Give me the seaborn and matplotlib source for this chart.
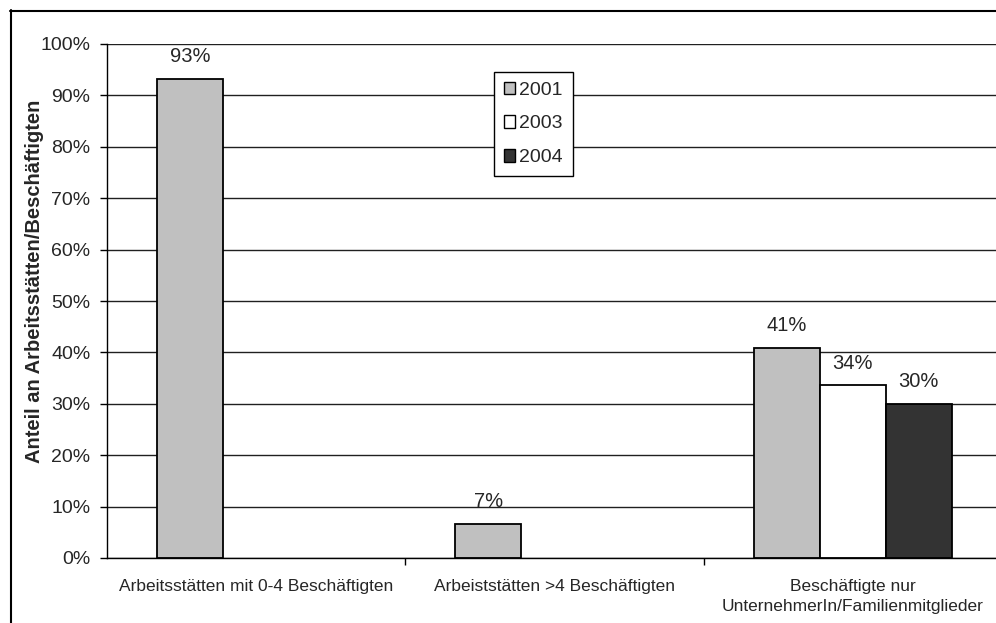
import numpy as np
import pandas as pd
import matplotlib
matplotlib.use("Agg")
import matplotlib.pyplot as plt
from matplotlib.lines import Line2D
from matplotlib.patches import Patch
from matplotlib.ticker import FixedLocator, FuncFormatter
import seaborn as sns

categories = ["Arbeitsstätten mit 0-4 Beschäftigten",
              "Arbeiststätten >4 Beschäftigten",
              "Beschäftigte nur\nUnternehmerIn/Familienmitglieder"]
years = ["2001", "2003", "2004"]
values_2001 = [93.2, 6.7, 40.9]
values_2003 = [np.nan, np.nan, 33.6]
values_2004 = [np.nan, np.nan, 30.0]
colors = ["#c0c0c0", "#ffffff", "#333333"]
ylabel = "Anteil an Arbeitsstätten/Beschäftigten"

rows = []
for yr, vals in zip(years, [values_2001, values_2003, values_2004]):
    for c, v in zip(categories, vals):
        rows.append({"cat": c, "year": yr, "val": v})
df = pd.DataFrame(rows)

sns.set_style("white")
plt.rcParams["font.family"] = ["Liberation Sans", "DejaVu Sans"]

fig = plt.figure(figsize=(9.96, 6.23), dpi=100)
ax = fig.add_axes([107/996, 65/623, (1002-107)/996, (558-44)/623])

sns.barplot(data=df, x="cat", y="val", hue="year", order=categories,
            hue_order=years, palette=colors, width=0.664, ax=ax,
            edgecolor="black", linewidth=1.3, saturation=1, legend=False)

ax.set_ylim(0, 100)
ax.set_xlim(-0.5, 2.5)
ax.yaxis.set_major_locator(FixedLocator(np.arange(0, 101, 10)))
ax.yaxis.set_major_formatter(FuncFormatter(lambda v, p: f"{v:.0f}%"))
ax.grid(axis="y", color="#202020", linewidth=1.0)
ax.set_axisbelow(True)
for s in ["top", "right"]:
    ax.spines[s].set_visible(False)
for s in ["left", "bottom"]:
    ax.spines[s].set_color("black")
    ax.spines[s].set_linewidth(1.0)

ax.tick_params(axis="y", which="major", direction="out", length=5, width=1,
               color="black", labelsize=14, pad=7, left=True)
ax.tick_params(axis="x", which="major", length=0, labelsize=12.5, pad=15)
ax.set_xticks(range(len(categories)))
ax.set_xticklabels(categories, linespacing=1.45)
ax.xaxis.set_minor_locator(FixedLocator([0.5, 1.5]))
ax.tick_params(axis="x", which="minor", direction="out", length=5, width=1,
               color="black", bottom=True)

ax.set_xlabel("")
ax.set_ylabel(ylabel, fontsize=14.5, fontweight="bold")
ax.yaxis.set_label_coords((44-107)/895, (558-281)/514)

for cont in ax.containers:
    labels = [("" if np.isnan(v) else f"{v:.0f}%") for v in cont.datavalues]
    ax.bar_label(cont, labels=labels, padding=9, fontsize=14.5)

handles = [Patch(facecolor=c, edgecolor="black", linewidth=1.0) for c in colors]
leg = ax.legend(handles, years, loc="upper left",
                bbox_to_anchor=((494-107)/895, 1-(72-44)/514),
                frameon=True, fancybox=False, framealpha=1, edgecolor="black",
                fontsize=14, handlelength=0.6, handleheight=0.6,
                handletextpad=0.2, borderpad=0.5, labelspacing=0.86,
                borderaxespad=0)
leg.get_frame().set_linewidth(1.0)

fig.add_artist(Line2D([10.5/996, 10.5/996], [0, 1-10/623], transform=fig.transFigure,
                      color="black", linewidth=1.5))
fig.add_artist(Line2D([10/996, 1], [1-10.5/623, 1-10.5/623], transform=fig.transFigure,
                      color="black", linewidth=1.5))

fig.savefig("out.png", dpi=100)
